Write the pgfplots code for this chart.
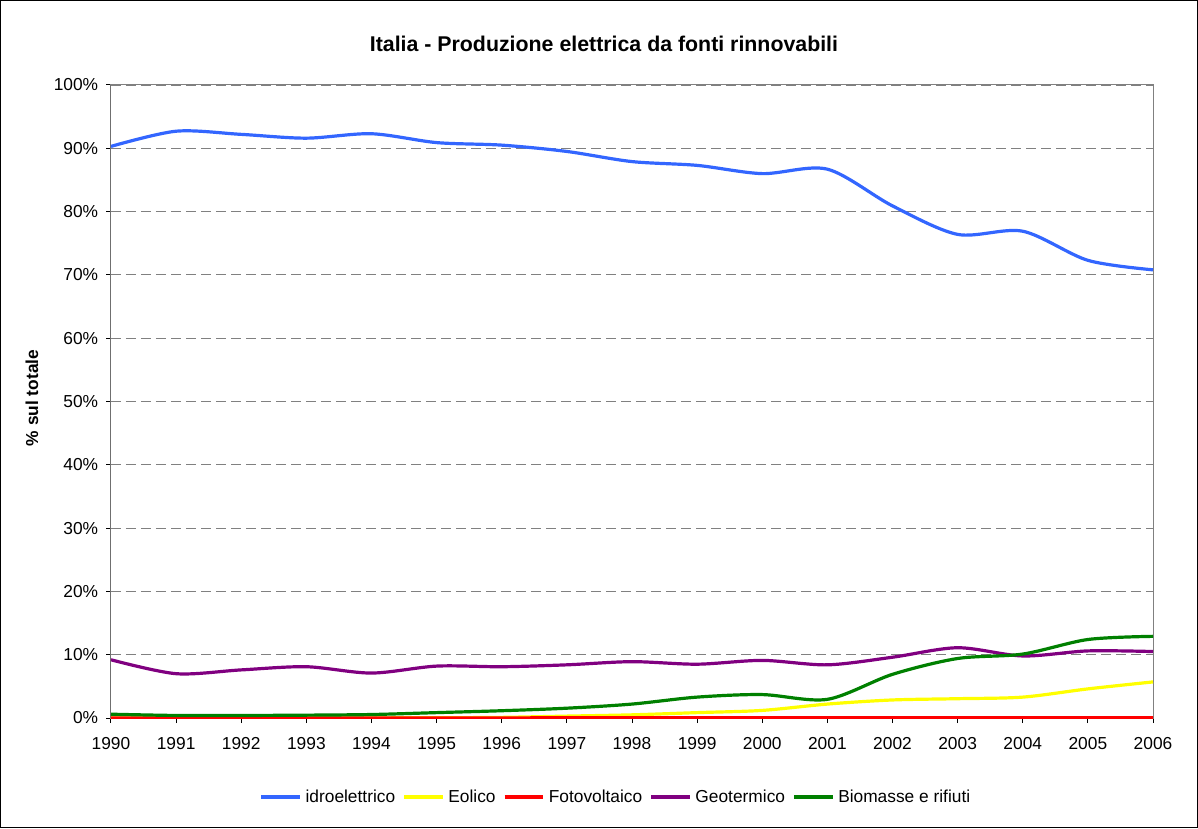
\documentclass[border=0pt]{standalone}
\usepackage{pgfplots}
\pgfplotsset{compat=1.18}
\usepackage{fontspec}
\setmainfont{Liberation Sans}

\definecolor{idro}{RGB}{51,102,255}
\definecolor{eolico}{RGB}{255,255,0}
\definecolor{foto}{RGB}{255,0,0}
\definecolor{geo}{RGB}{128,0,128}
\definecolor{bio}{RGB}{0,128,0}
\definecolor{gridgray}{RGB}{128,128,128}

% quote di produzione sul totale rinnovabile (%)
\pgfplotstableread{
anno idro  eolico foto geo  bio
1990 90.3  0.00   0.00 9.2  0.60
1991 92.7  0.00   0.00 7.0  0.40
1992 92.2  0.00   0.01 7.6  0.40
1993 91.6  0.01   0.01 8.1  0.45
1994 92.3  0.02   0.02 7.1  0.55
1995 90.9  0.04   0.02 8.2  0.85
1996 90.5  0.10   0.02 8.1  1.15
1997 89.5  0.30   0.03 8.4  1.55
1998 87.9  0.50   0.03 8.9  2.20
1999 87.3  0.85   0.03 8.5  3.30
2000 86.0  1.20   0.03 9.1  3.70
2001 86.7  2.20   0.03 8.4  2.95
2002 80.9  2.85   0.03 9.6  6.90
2003 76.4  3.05   0.03 11.1 9.40
2004 76.9  3.30   0.03 9.8  10.10
2005 72.3  4.60   0.04 10.6 12.40
2006 70.8  5.70   0.04 10.5 12.90
}\datatab

\begin{document}
\begin{tikzpicture}
\begin{axis}[
    at={(0,0)}, anchor=south west,
    scale only axis,
    width=781.5pt, height=474.75pt,
    xmin=1990, xmax=2006,
    ymin=0, ymax=100,
    xtick={1990,1991,...,2006},
    ytick={0,10,...,100},
    yticklabel={\pgfmathprintnumber{\tick}\%},
    /pgf/number format/1000 sep={},
    /pgf/number format/assume math mode=true,
    font=\fontsize{13}{15.5}\selectfont,
    tick label style={font=\fontsize{13}{15.5}\selectfont},
    xticklabel style={yshift=-6.9pt},
    yticklabel style={xshift=-2.4pt},
    tick pos=left,
    tick align=outside,
    major tick length=3.75pt,
    tick style={black, line width=0.75pt},
    axis line style={draw=gridgray, line width=0.75pt},
    ymajorgrids=true,
    grid style={gridgray, dash pattern=on 7.5pt off 3.75pt, line width=0.6pt},
    every axis title shift=0pt,
    title={Italia - Produzione elettrica da fonti rinnovabili},
    title style={at={(axis description cs:0.4731,1.0526)}, anchor=base,
        font=\bfseries\fontsize{16}{19}\selectfont},
    ylabel={\% sul totale},
    ylabel style={at={(axis description cs:-0.0758,0.5055)}, anchor=center,
        font=\bfseries\fontsize{13}{15.5}\selectfont},
    legend columns=-1,
    legend style={at={(axis description cs:0.4856,-0.1248)}, anchor=center,
        draw=none, fill=none, font=\fontsize{13}{15.5}\selectfont,
        nodes={inner xsep=3pt},
        /tikz/every even column/.append style={column sep=2.5pt}},
    legend image code/.code={\draw[#1] (0pt,0pt) -- (29pt,0pt);},
    every axis plot/.append style={line width=2.4pt, smooth, no markers},
]
\draw[black, line width=0.75pt] (rel axis cs:0,0) -- (rel axis cs:0,1);
\draw[black, line width=0.75pt] (rel axis cs:0,0) -- (rel axis cs:1,0);
\addplot[idro] table[x=anno, y=idro] {\datatab};
\addplot[eolico] table[x=anno, y=eolico] {\datatab};
\addplot[foto] table[x=anno, y=foto] {\datatab};
\addplot[geo] table[x=anno, y=geo] {\datatab};
\addplot[bio] table[x=anno, y=bio] {\datatab};
\legend{idroelettrico, Eolico, Fotovoltaico, Geotermico, Biomasse e rifiuti}
\end{axis}
\draw[black, line width=0.75pt] (-82.875pt,-82.125pt) rectangle (814.875pt,538.125pt);
\pgfresetboundingbox
\useasboundingbox (-83.25pt,-82.5pt) rectangle (815.25pt,538.5pt);
\end{tikzpicture}
\end{document}
